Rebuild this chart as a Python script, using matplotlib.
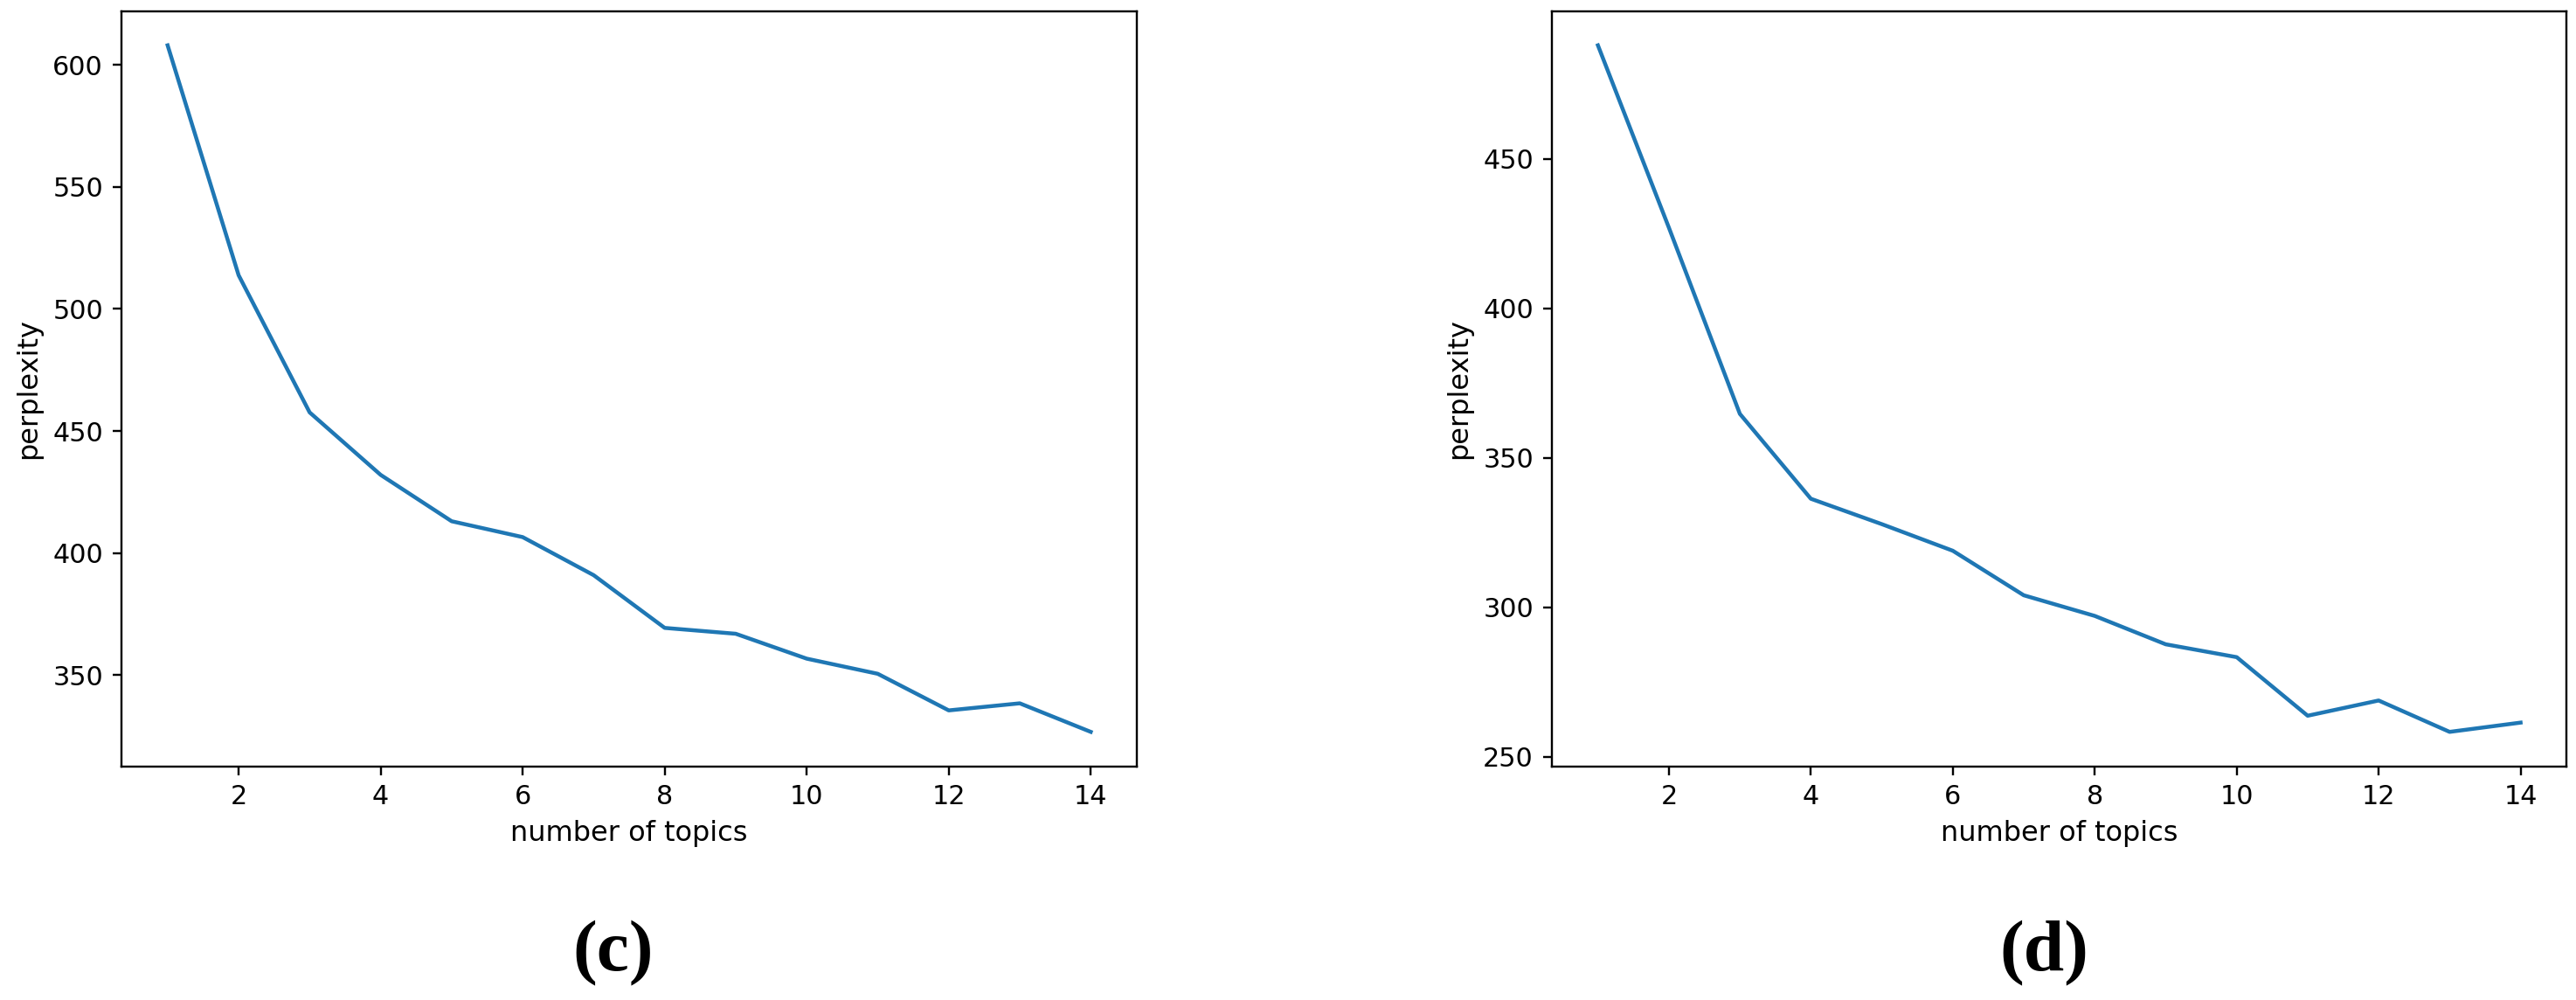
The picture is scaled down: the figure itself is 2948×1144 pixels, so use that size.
import matplotlib
matplotlib.use("Agg")
import matplotlib.pyplot as plt

topics = list(range(1, 15))
perplexity_c = [608, 513.8, 457.6, 432.0, 413.0, 406.5, 390.9, 369.3, 366.9, 356.7, 350.5, 335.5, 338.4, 326.7]
perplexity_d = [488, 427, 364.7, 336.3, 327.8, 318.9, 304.0, 297.1, 287.6, 283.3, 263.7, 268.8, 258.3, 261.4]
xticks = [2, 4, 6, 8, 10, 12, 14]
captions = ["(c)", "(d)"]

S = 2.15
plt.rcParams.update({
    "font.family": "DejaVu Sans",
    "font.size": 10 * S,
    "xtick.labelsize": 21.8,
    "ytick.labelsize": 21.8,
    "axes.labelsize": 23,
    "axes.linewidth": 0.8 * S,
    "xtick.major.size": 3.5 * S,
    "ytick.major.size": 3.5 * S,
    "xtick.major.width": 0.8 * S,
    "ytick.major.width": 0.8 * S,
    "xtick.major.pad": 3.5 * S,
    "ytick.major.pad": 3.5 * S,
    "axes.labelpad": 4.0 * S,
    "lines.linewidth": 1.5 * S,
})

fig = plt.figure(figsize=(29.48, 11.44), dpi=100)
ax_c = fig.add_axes([0.04715, 0.2338, 0.3942, 0.7552])
ax_d = fig.add_axes([0.6024, 0.2338, 0.3940, 0.7552])

for ax, data, cap, cx in [(ax_c, perplexity_c, captions[0], 702 / 2948),
                          (ax_d, perplexity_d, captions[1], 2339 / 2948)]:
    ax.plot(topics, data, color="#1f77b4")
    ax.set_xticks(xticks)
    ax.set_xlabel("number of topics")
    ax.set_ylabel("perplexity")
    fig.text(cx, 1 - 1091 / 1144, cap, ha="center", va="center",
             fontsize=60, fontweight="bold", family="Liberation Serif")

fig.savefig("out.png", dpi=100)
